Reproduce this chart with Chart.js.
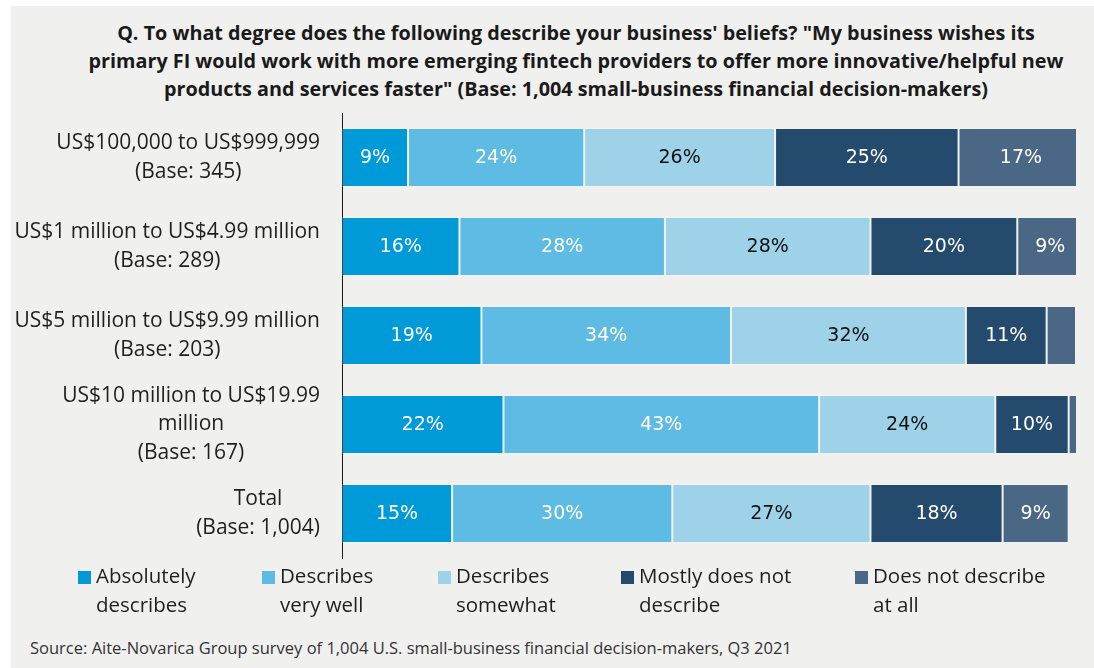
<!DOCTYPE html>
<html>
<head>
<meta charset="utf-8">
<script src="https://cdn.jsdelivr.net/npm/chart.js@4/dist/chart.umd.min.js"></script>
<style>
    html, body { margin: 0; padding: 0; background: #ffffff; }
    body { width: 1094px; height: 668px; position: relative; overflow: hidden; font-family: "Open Sans", Lato, sans-serif; }
    .panel { position: absolute; left: 11px; top: 6px; right: 0; bottom: 0; background: #f0f0ef; }
    .title {
        position: absolute; left: 60px; width: 1032px; top: 19px;
        text-align: center; font-weight: 700; font-size: 19.8px; line-height: 28px; color: #1a1a1a;
    }
    .chart-box { position: absolute; left: 0; top: 105px; width: 1094px; height: 460px; }
    .legend-item { position: absolute; top: 561px; font-size: 20.5px; line-height: 29px; color: #1f1f1f; white-space: nowrap; }
    .legend-item .swatch { position: absolute; left: -18px; top: 10px; width: 13px; height: 13px; }
    .source { position: absolute; left: 30px; top: 636px; font-size: 16.5px; color: #333333; white-space: nowrap; }
</style>
</head>
<body>
<div class="panel"></div>
<div class="title">
    Q. To what degree does the following describe your business' beliefs? "My business wishes its<br>
    primary FI would work with more emerging fintech providers to offer more innovative/helpful new<br>
    products and services faster" (Base: 1,004 small-business financial decision-makers)
</div>
<div class="chart-box"><canvas id="chart" width="1094" height="460"></canvas></div>
<div id="legend"></div>
<div class="source">Source: Aite-Novarica Group survey of 1,004 U.S. small-business financial decision-makers, Q3 2021</div>

<script>
const categories = [
    ["US$100,000 to US$999,999", "(Base: 345)"],
    ["US$1 million to US$4.99 million", "(Base: 289)"],
    ["US$5 million to US$9.99 million", "(Base: 203)"],
    ["US$10 million to US$19.99", "million", "(Base: 167)"],
    ["Total", "(Base: 1,004)"],
];

const seriesNames = [
    ["Absolutely", "describes"],
    ["Describes", "very well"],
    ["Describes", "somewhat"],
    ["Mostly does not", "describe"],
    ["Does not describe", "at all"],
];

const absolutelyDescribes = [9, 16, 19, 22, 15];
const describesVeryWell = [24, 28, 34, 43, 30];
const describesSomewhat = [26, 28, 32, 24, 27];
const mostlyDoesNot = [25, 20, 11, 10, 18];
const doesNotDescribe = [17, 9, 4, 2, 9];

const seriesValues = [absolutelyDescribes, describesVeryWell, describesSomewhat, mostlyDoesNot, doesNotDescribe];
const seriesColors = ["#009ad9", "#5ebbe3", "#9dd2e8", "#244a6d", "#4a6885"];
const labelColors = ["#ffffff", "#ffffff", "#111111", "#ffffff", "#ffffff"];
const legendX = [96, 280, 456, 639, 873];

const LABEL_FONT = '21px "Open Sans", Lato, sans-serif';

// category names on the left: each block is right-aligned, lines centred within it
const categoryLabels = {
    id: "categoryLabels",
    afterDraw(chart) {
        const ctx = chart.ctx;
        const yScale = chart.scales.y;
        const right = chart.chartArea.left - 22;
        const lineHeight = 28.8;
        ctx.save();
        ctx.font = LABEL_FONT;
        ctx.fillStyle = "#1f1f1f";
        ctx.textAlign = "center";
        ctx.textBaseline = "middle";
        categories.forEach((lines, index) => {
            const widest = Math.max(...lines.map((line) => ctx.measureText(line).width));
            const cx = right - widest / 2;
            const cy = yScale.getPixelForValue(index);
            const start = cy - ((lines.length - 1) * lineHeight) / 2;
            lines.forEach((line, i) => ctx.fillText(line, cx, start + i * lineHeight));
        });
        ctx.restore();
    },
};

// percentage text in the middle of each segment
const segmentLabels = {
    id: "segmentLabels",
    afterDatasetsDraw(chart) {
        const ctx = chart.ctx;
        ctx.save();
        ctx.font = '19px "DejaVu Sans", sans-serif';
        ctx.textAlign = "center";
        ctx.textBaseline = "middle";
        chart.data.datasets.forEach((dataset, di) => {
            chart.getDatasetMeta(di).data.forEach((bar, index) => {
                const width = Math.abs(bar.x - bar.base);
                if (width < 34) {
                    return;
                }
                ctx.fillStyle = labelColors[di];
                ctx.fillText(`${dataset.data[index]}%`, (bar.x + bar.base) / 2, bar.y + 1);
            });
        });
        ctx.restore();
    },
};

new Chart(document.getElementById("chart"), {
    type: "bar",
    data: {
        labels: categories.map((lines) => lines.join(" ")),
        datasets: seriesValues.map((values, index) => ({
            label: seriesNames[index].join(" "),
            data: values,
            backgroundColor: seriesColors[index],
            borderColor: "rgba(255, 255, 255, 0.18)",
            borderWidth: 1,
            borderSkipped: false,
            barPercentage: 0.663,
            categoryPercentage: 1,
        })),
    },
    options: {
        indexAxis: "y",
        responsive: false,
        animation: false,
        layout: { padding: { top: 8, right: 18, bottom: 7, left: 0 } },
        plugins: {
            legend: { display: false },
            tooltip: { enabled: false },
        },
        scales: {
            x: {
                stacked: true,
                min: 0,
                max: 100,
                display: false,
            },
            y: {
                stacked: true,
                grid: { display: false, drawTicks: false },
                border: { display: true, color: "#1a1a1a", width: 1 },
                ticks: { display: false },
                afterFit: (scale) => {
                    scale.width = 342;
                },
            },
        },
    },
    plugins: [categoryLabels, segmentLabels],
});

const legend = document.getElementById("legend");
seriesNames.forEach((lines, index) => {
    const item = document.createElement("div");
    item.className = "legend-item";
    item.style.left = `${legendX[index]}px`;
    const swatch = document.createElement("span");
    swatch.className = "swatch";
    swatch.style.background = seriesColors[index];
    item.appendChild(swatch);
    lines.forEach((line, i) => {
        if (i) {
            item.appendChild(document.createElement("br"));
        }
        item.appendChild(document.createTextNode(line));
    });
    legend.appendChild(item);
});
</script>
</body>
</html>
